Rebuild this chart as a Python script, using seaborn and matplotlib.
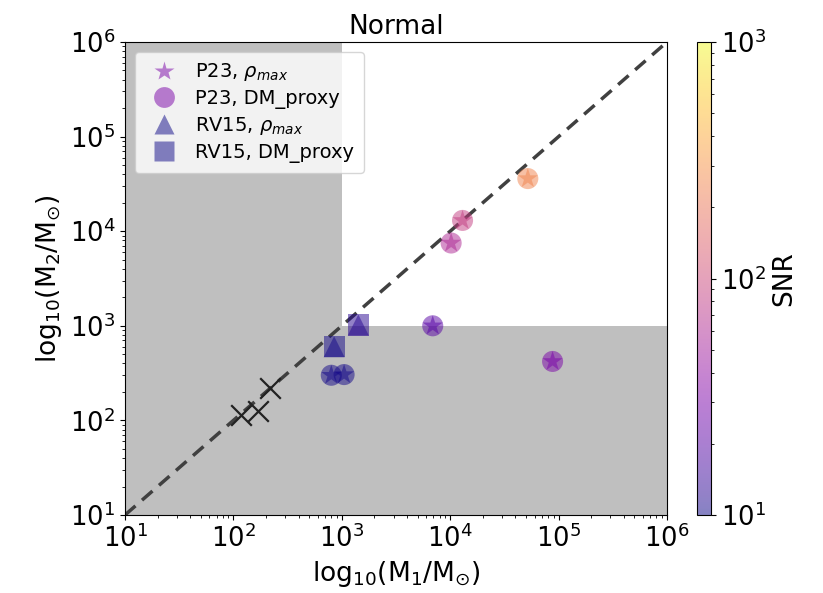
import numpy as np
import pandas as pd
import matplotlib
matplotlib.use("Agg")
import matplotlib.pyplot as plt
import seaborn as sns
from matplotlib.colors import LogNorm
from matplotlib.lines import Line2D

# P23 halo pairs (primary mass, secondary mass, SNR)
p23_m1 = [52000, 13000, 10200, 6900, 88000, 800, 1050]
p23_m2 = [36000, 13000, 7500, 1000, 420, 300, 305]
p23_snr = [250, 85, 60, 20, 30, 10.5, 10.5]

# RV15 halo pairs
rv15_m1 = [850, 1420]
rv15_m2 = [600, 1020]
rv15_snr = [10.5, 12]

# Unresolved pairs
x_m1 = [118, 168, 218]
x_m2 = [115, 127, 220]

plt.rcParams["font.family"] = ["DejaVu Sans"]

fig = plt.figure(figsize=(8.23, 5.93), dpi=100)
ax = fig.add_axes([125 / 823, 1 - 515 / 593, 542 / 823, 473 / 593])
cax = fig.add_axes([697 / 823, 1 - 515 / 593, 14 / 823, 473 / 593])

lo, hi = 10, 1e6
cut = 1e3
# excluded region: M1 < 1e3 or M2 < 1e3
ax.fill([lo, lo, cut, cut, hi, hi], [lo, hi, hi, cut, cut, lo],
        color="#bfbfbf", lw=0, zorder=0)

ax.plot([lo, hi], [lo, hi], ls=(0, (4, 2.5)), color="#404040", lw=2.5, zorder=1)

norm = LogNorm(10, 1000)
cmap = "plasma"
p23 = pd.DataFrame({"m1": p23_m1, "m2": p23_m2, "snr": p23_snr})
rv15 = pd.DataFrame({"m1": rv15_m1, "m2": rv15_m2, "snr": rv15_snr})

for df, mk in [(p23, "o"), (p23, "*"), (rv15, "s"), (rv15, "^")]:
    sns.scatterplot(data=df, x="m1", y="m2", hue="snr", hue_norm=norm,
                    palette=cmap, marker=mk, s=230, alpha=0.5,
                    edgecolor="none", legend=False, ax=ax, zorder=3)

ax.scatter(x_m1, x_m2, marker="x", s=220, color="#222222", lw=1.6, zorder=4)

ax.set_xscale("log")
ax.set_yscale("log")
ax.set_xlim(lo, hi)
ax.set_ylim(lo, hi)
ax.tick_params(labelsize=18.5)
ax.set_xlabel(r"log$_{10}$(M$_1$/M$_{\odot}$)", fontsize=19)
ax.set_ylabel(r"log$_{10}$(M$_2$/M$_{\odot}$)", fontsize=19)
ax.set_title("Normal", fontsize=19)

sm = plt.cm.ScalarMappable(norm=norm, cmap=cmap)
cb = fig.colorbar(sm, cax=cax, alpha=0.5)
cb.set_label("SNR", fontsize=19)
cb.ax.tick_params(labelsize=18.5)

c_p23 = plt.get_cmap(cmap)(norm(30))
c_rv = plt.get_cmap(cmap)(norm(10))
handles = [
    Line2D([], [], ls="", marker="*", ms=15, color=c_p23, alpha=0.5, mec="none"),
    Line2D([], [], ls="", marker="o", ms=15, color=c_p23, alpha=0.5, mec="none"),
    Line2D([], [], ls="", marker="^", ms=15, color=c_rv, alpha=0.5, mec="none"),
    Line2D([], [], ls="", marker="s", ms=15, color=c_rv, alpha=0.5, mec="none"),
]
labels = [r"P23, $\rho_{max}$", "P23, DM_proxy",
          r"RV15, $\rho_{max}$", "RV15, DM_proxy"]
ax.legend(handles, labels, loc="upper left", fontsize=14,
          handletextpad=0.6, labelspacing=0.3, borderpad=0.5)

fig.savefig("out.png", dpi=100)
